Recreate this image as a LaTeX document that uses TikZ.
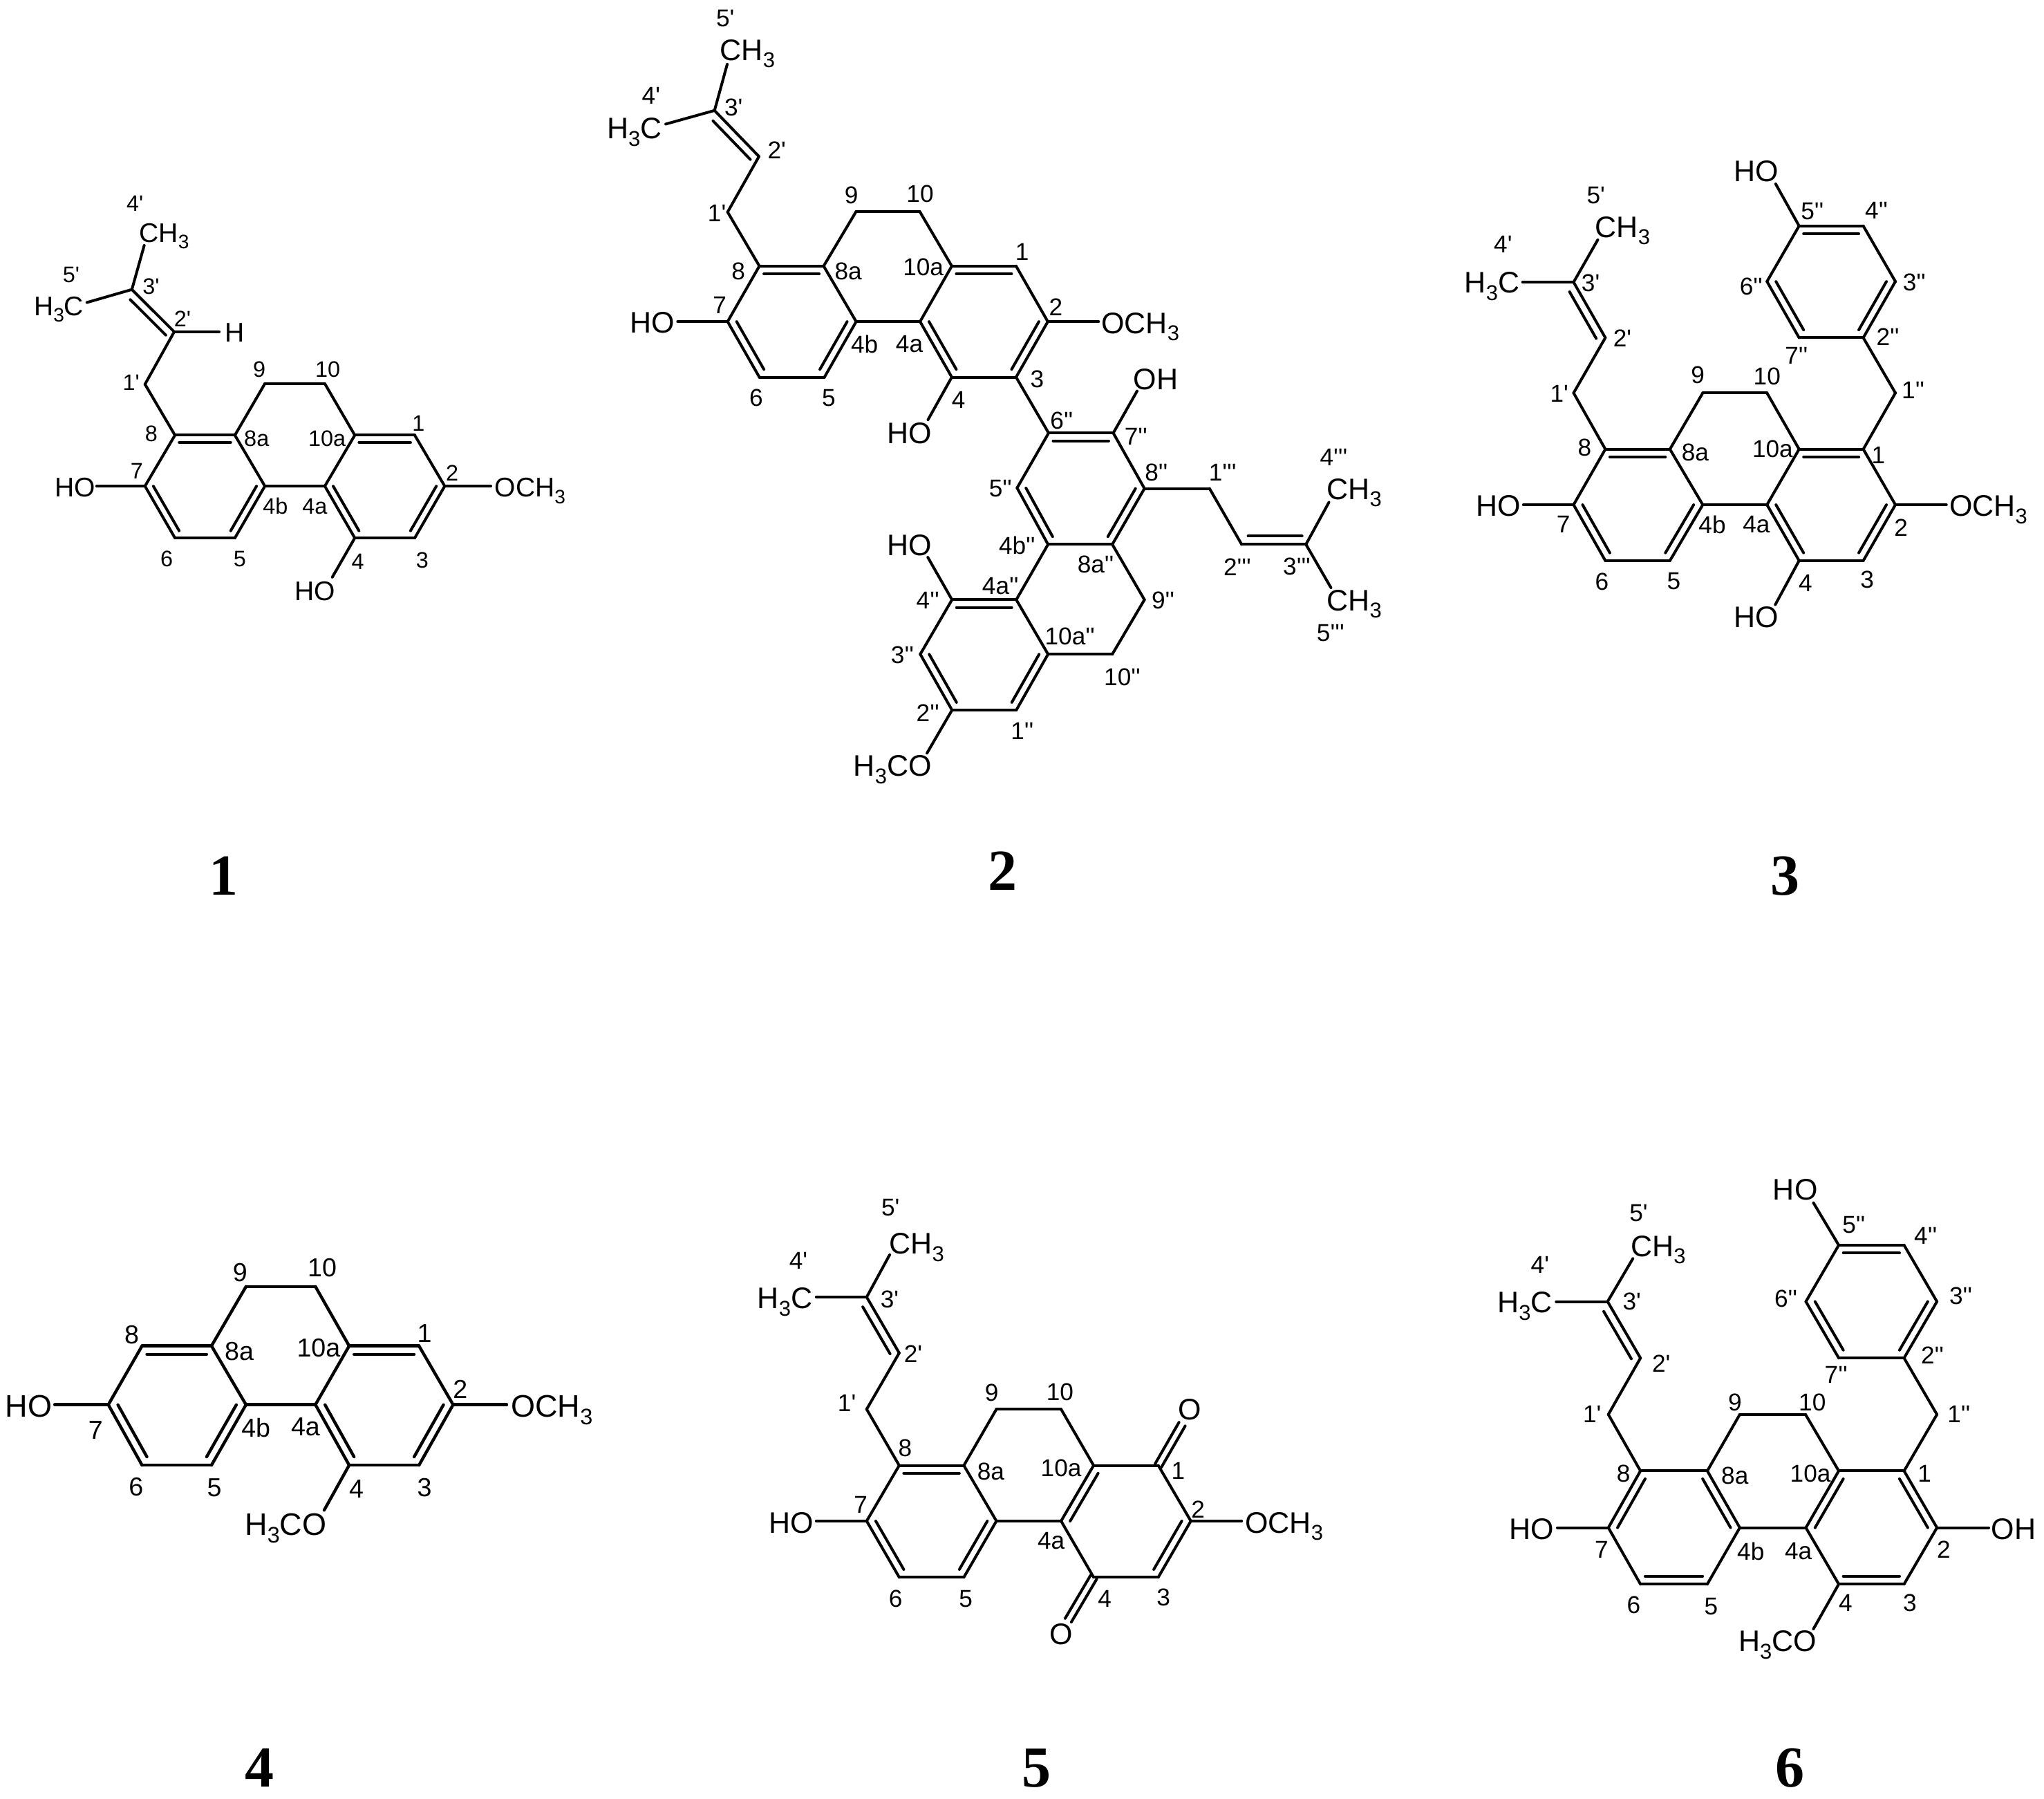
\documentclass[tikz,border=0pt]{standalone}
\usepackage{fontspec}
\usepackage{graphicx}
\usetikzlibrary{calc}
\newfontfamily\chemfont{Liberation Sans}
\newfontfamily\numfont{Liberation Serif}
\newcount\nodec
\newcommand\sbs[1]{\raisebox{-0.24em}[0pt][0pt]{\scalebox{0.72}{#1}}}
\def\asz{21.5}
\def\lsz{17.6}
\tikzset{
  frame/.style n args={4}{xshift=#1,yshift=#2,x=#3,y=#4},
  bond/.style={draw=black,line width=\blw,line cap=round,line join=round},
  atomtext/.style={inner sep=0pt,text=black,font=\chemfont\fontsize{\asz}{\asz}\selectfont},
  locant/.style={inner sep=0pt,text=black,font=\chemfont\fontsize{\lsz}{\lsz}\selectfont},
  cpdnum/.style={inner sep=0pt,text=black,font=\numfont\bfseries\fontsize{42}{42}\selectfont},
}
\def\blw{2pt}
% nodes: automatic unique names
\newcommand\atm[2]{\global\advance\nodec by 1 \node[atomtext,name=t\the\nodec] at (#1) {#2};}
\newcommand\lab[2]{\global\advance\nodec by 1 \node[locant,name=l\the\nodec] at (#1) {#2};}
\newcommand\pts[1]{\foreach \n/\p in {#1}{\coordinate (\n) at (\p);}}
\newcommand\lbls[1]{\foreach \p/\t in {#1}{\lab{\p}{\t}}}
% bonds
\newcommand\sg[1]{\foreach \a/\b in {#1}{\draw[bond] (\a)--(\b);}}
\newcommand\rdb[1]{\foreach \a/\b/\c in {#1}{\draw[bond] (\a)--(\b);\draw[bond] ($(\a)!0.14!(\c)$)--($(\b)!0.14!(\c)$);}}
\newcommand\sdb[3]{\draw[bond] (#1)--(#2);\draw[bond] ($(#1)!0.1!(#2)!6pt!#3:(#2)$)--($(#2)!0.06!(#1)!6pt!-#3:(#1)$);}
\newcommand\cdb[2]{\draw[bond] ($(#1)!2.6pt!90:(#2)$)--($(#2)!2.6pt!-90:(#1)$);\draw[bond] ($(#1)!2.6pt!-90:(#2)$)--($(#2)!2.6pt!90:(#1)$);}
\newcommand\rings{\coordinate (rA) at ($(a8)!.5!(a5)$);\coordinate (rC) at ($(a10a)!.5!(a3)$);}
\begin{document}
\begin{tikzpicture}
\useasboundingbox (0,0) rectangle (1478.5pt,-1301pt);
\fill[white] (0,0) rectangle (1478.5pt,-1301pt);
%================ 1
\begin{scope}[name prefix=m1-,frame={0pt}{-125pt}{.2710pt}{-.2232pt}]
\def\asz{19.5}\def\lsz{16.2}
\pts{p3/{352,378},eA/{385,235},eB/{232,420},p2/{465,515},eH/{585,515},p1/{387,685},a8/{467,850},a8a/{627,850},a9/{707,683},a10/{867,683},a10a/{947,850},a1/{1107,850},a2/{1187,1015},a3/{1107,1183},a4/{947,1183},a4a/{867,1015},a4b/{707,1015},a5/{627,1183},a6/{467,1183},a7/{387,1015},eC/{258,1015},eD/{1310,1015},eE/{887,1310}}
\rings
\sg{p3/eA,p3/eB,p2/eH,p2/p1,p1/a8,a8/a7,a8a/a9,a9/a10,a10/a10a,a8a/a4b,a4b/a4a,a4a/a10a,a1/a2,a3/a4,a6/a5,a7/eC,a2/eD,a4/eE}
\sdb{p3}{p2}{-90}
\rdb{a8/a8a/rA,a7/a6/rA,a4b/a5/rA,a10a/a1/rC,a4a/a4/rC,a2/a3/rC}
\atm{438,195}{CH\sbs{3}}\atm{157,432}{H\sbs{3}C}\atm{626,517}{H}\atm{200,1020}{HO}\atm{1415,1020}{OCH\sbs{3}}\atm{840,1355}{HO}
\lbls{{360,100}/4',{190,330}/5',{403,368}/3',{487,472}/2',{350,680}/1',{692,638}/9,{875,638}/10,{404,845}/8,{685,862}/8a,{873,860}/10a,{1117,812}/1,{1207,972}/2,{365,967}/7,{735,1080}/4b,{840,1080}/4a,{445,1250}/6,{640,1250}/5,{955,1260}/4,{1127,1255}/3}
\end{scope}
%================ 2
\begin{scope}[name prefix=m2-]
\begin{scope}[frame={425pt}{0pt}{.2870pt}{-.2232pt}]
\pts{p3/{320,358},eA/{352,208},eB/{197,402},p2/{432,507},p1/{353,687},a8/{433,862},a8a/{595,862},a9/{677,685},a10/{837,685},a10a/{918,862},a1/{1080,862},a2/{1160,1042},a3/{1080,1222},a4/{918,1222},a4a/{838,1042},a4b/{677,1042},a5/{597,1222},a6/{433,1222},a7/{353,1042},eC/{227,1042},eD/{1288,1042},eE/{858,1360},eF/{1385,1267},b6/{1162,1403},b7/{1325,1403}}
\atm{403,163}{CH\sbs{3}}\atm{118,417}{H\sbs{3}C}\atm{163,1045}{HO}\atm{1393,1047}{OCH\sbs{3}}\atm{811,1403}{HO}\atm{1432,1228}{OH}
\lbls{{347,60}/5',{160,310}/4',{368,347}/3',{477,487}/2',{326,690}/1',{665,632}/9,{838,628}/10,{380,878}/8,{657,878}/8a,{846,865}/10a,{1095,817}/1,{1180,995}/2,{333,988}/7,{698,1115}/4b,{811,1115}/4a,{425,1290}/6,{608,1290}/5,{935,1295}/4,{1133,1228}/3,{1195,1362}/6'',{1382,1415}/7''}
\end{scope}
\begin{scope}[frame={550pt}{-300pt}{.2870pt}{-.2073pt}]
\pts{b8/{968,257},b5/{647,255},b4b/{725,452},b8a/{887,452},b4a/{645,645},b4/{483,645},b3/{403,835},b2/{483,1030},b1/{645,1030},b10a/{725,835},b10/{887,835},b9/{968,645},c1/{1132,257},c2/{1213,452},c3/{1375,452},eG/{1433,305},eH/{1438,603},eI/{422,497},eJ/{420,1180}}
\atm{1497,260}{CH\sbs{3}}\atm{1497,647}{CH\sbs{3}}\atm{375,455}{HO}\atm{333,1225}{H\sbs{3}CO}
\lbls{{998,200}/8'',{1165,200}/1''',{1445,148}/4''',{605,257}/5'',{647,455}/4b'',{845,522}/8a'',{1202,530}/2''',{1352,530}/3''',{1015,647}/9'',{605,597}/4a'',{422,648}/4'',{780,773}/10a'',{358,838}/3'',{1437,762}/5''',{912,915}/10'',{422,1040}/2'',{660,1103}/1''}
\end{scope}
\rings
\coordinate (rD) at ($(b7)!.5!(b4b)$);
\coordinate (rF) at ($(b4a)!.5!(b2)$);
\sg{p3/eA,p3/eB,p2/p1,p1/a8,a8/a7,a8a/a9,a9/a10,a10/a10a,a8a/a4b,a4b/a4a,a4a/a10a,a1/a2,a3/a4,a6/a5,a7/eC,a2/eD,a4/eE,a3/b6,b7/eF,b7/b8,b6/b5,b8/c1,c1/c2,c3/eG,c3/eH,b4b/b8a,b4b/b4a,b8a/b9,b9/b10,b10/b10a,b10a/b4a,b4/b3,b2/b1,b4/eI,b2/eJ}
\sdb{p3}{p2}{-90}
\sdb{c2}{c3}{90}
\rdb{a8/a8a/rA,a7/a6/rA,a4b/a5/rA,a10a/a1/rC,a4a/a4/rC,a2/a3/rC,b6/b7/rD,b5/b4b/rD,b8/b8a/rD,b4/b4a/rF,b3/b2/rF,b1/b10a/rF}
\end{scope}
%================ 3
\begin{scope}[name prefix=m3-,frame={1050pt}{-100pt}{.2732pt}{-.2392pt}]
\pts{p3/{323,435},eA/{387,307},eB/{188,435},p2/{407,603},p1/{323,770},a8/{407,940},a8a/{578,940},a9/{665,770},a10/{835,770},a10a/{920,940},a1/{1090,940},a2/{1175,1108},a3/{1090,1277},a4/{920,1277},a4a/{835,1108},a4b/{665,1108},a5/{578,1277},a6/{407,1277},a7/{323,1108},eC/{190,1108},eD/{1310,1108},eE/{857,1410},q1/{1175,770},q2/{1090,603},q3/{1175,433},q4/{1090,265},q5/{920,265},q6/{835,433},q7/{920,603},eF/{858,138}}
\rings
\coordinate (rB) at ($(q5)!.5!(q2)$);
\sg{p3/eA,p3/eB,p2/p1,p1/a8,a8/a7,a8a/a9,a9/a10,a10/a10a,a8a/a4b,a4b/a4a,a4a/a10a,a1/a2,a3/a4,a6/a5,a7/eC,a2/eD,a4/eE,a1/q1,q1/q2,q4/q3,q5/q6,q7/q2,q5/eF}
\sdb{p3}{p2}{-90}
\rdb{a8/a8a/rA,a7/a6/rA,a4b/a5/rA,a10a/a1/rC,a4a/a4/rC,a2/a3/rC,q5/q4/rB,q6/q7/rB,q2/q3/rB}
\atm{453,268}{CH\sbs{3}}\atm{107,437}{H\sbs{3}C}\atm{807,100}{HO}\atm{124,1112}{HO}\atm{1421,1112}{OCH\sbs{3}}\atm{807,1448}{HO}
\lbls{{382,172}/5',{136,320}/4',{368,437}/3',{452,605}/2',{285,772}/1',{652,715}/9,{835,720}/10,{352,935}/8,{645,950}/8a,{850,940}/10a,{1130,958}/1,{1190,1178}/2,{296,1168}/7,{690,1168}/4b,{807,1168}/4a,{398,1340}/6,{588,1340}/5,{937,1345}/4,{1100,1335}/3,{955,220}/5'',{1125,218}/4'',{1225,435}/3'',{793,448}/6'',{1155,600}/2'',{913,658}/7'',{1222,762}/1''}
\end{scope}
%================ 4
\begin{scope}[name prefix=m4-,frame={0pt}{-890pt}{.2870pt}{-.2073pt}]
\def\asz{22.5}\def\lsz{18.8}\def\blw{2.2pt}
\pts{a7/{273,607},a8/{358,402},a8a/{533,402},a9/{620,195},a10/{795,195},a10a/{880,402},a1/{1056,402},a2/{1142,607},a3/{1056,818},a4/{880,818},a4a/{795,607},a4b/{620,607},a5/{533,818},a6/{358,818},eC/{138,607},eD/{1277,607},eE/{817,975}}
\rings
\sg{a8/a7,a8a/a9,a9/a10,a10/a10a,a8a/a4b,a4b/a4a,a4a/a10a,a1/a2,a3/a4,a6/a5,a7/eC,a2/eD,a4/eE}
\rdb{a8/a8a/rA,a7/a6/rA,a4b/a5/rA,a10a/a1/rC,a4a/a4/rC,a2/a3/rC}
\atm{72,612}{HO}\atm{1391,612}{OCH\sbs{3}}\atm{720,1025}{H\sbs{3}CO}
\lbls{{332,362}/8,{605,145}/9,{812,130}/10,{603,420}/8a,{803,410}/10a,{1070,358}/1,{1160,553}/2,{241,695}/7,{645,688}/4b,{770,685}/4a,{343,893}/6,{540,897}/5,{898,900}/4,{1070,897}/3}
\end{scope}
%================ 5
\begin{scope}[name prefix=m5-,frame={525pt}{-850pt}{.2870pt}{-.2392pt}]
\pts{p3/{355,368},eA/{413,240},eB/{228,368},p2/{437,537},p1/{355,707},a8/{437,877},a8a/{600,877},a9/{682,707},a10/{845,707},a10a/{927,877},a1/{1090,877},a2/{1172,1045},a3/{1090,1215},a4/{927,1215},a4a/{845,1045},a4b/{682,1045},a5/{600,1215},a6/{437,1215},a7/{355,1045},eC/{228,1045},eD/{1300,1045},eO/{1150,752},eQ/{863,1345}}
\rings
\sg{p3/eA,p3/eB,p2/p1,p1/a8,a8/a7,a8a/a9,a9/a10,a10/a10a,a8a/a4b,a4b/a4a,a10a/a1,a1/a2,a3/a4,a4/a4a,a6/a5,a7/eC,a2/eD}
\sdb{p3}{p2}{-90}
\cdb{a1}{eO}
\cdb{a4}{eQ}
\rdb{a8/a8a/rA,a7/a6/rA,a4b/a5/rA,a10a/a4a/rC,a2/a3/rC}
\atm{481,207}{CH\sbs{3}}\atm{149,372}{H\sbs{3}C}\atm{165,1050}{HO}\atm{1407,1050}{OCH\sbs{3}}\atm{1170,708}{O}\atm{845,1387}{O}
\lbls{{415,97}/5',{183,257}/4',{413,375}/3',{472,540}/2',{305,688}/1',{670,657}/9,{842,655}/10,{452,825}/8,{668,895}/8a,{845,885}/10a,{1140,893}/1,{1190,1010}/2,{340,995}/7,{820,1105}/4a,{428,1280}/6,{605,1280}/5,{955,1280}/4,{1103,1275}/3}
\end{scope}
%================ 6
\begin{scope}[name prefix=m6-,frame={1050pt}{-840pt}{.2732pt}{-.2551pt}]
\pts{p3/{413,397},eA/{480,275},eB/{277,397},p2/{500,557},p1/{415,717},a8/{500,877},a8a/{677,877},a9/{763,717},a10/{937,717},a10a/{1025,877},a1/{1198,877},a2/{1285,1038},a3/{1198,1198},a4/{1025,1198},a4a/{938,1038},a4b/{763,1038},a5/{677,1198},a6/{500,1198},a7/{415,1038},q1/{1285,717},q2/{1198,557},q3/{1285,397},q4/{1198,237},q5/{1025,237},q6/{938,397},q7/{1025,557},eF/{958,117},eC/{280,1038},eG/{1422,1038},eE/{958,1325}}
\rings
\coordinate (rB) at ($(q5)!.5!(q2)$);
\sg{p3/eA,p3/eB,p2/p1,p1/a8,a8/a8a,a7/a6,a4b/a5,a4b/a4a,a10a/a1,a2/a3,a4/a4a,a8a/a9,a9/a10,a10/a10a,a1/q1,q1/q2,q4/q3,q5/q6,q7/q2,q5/eF,a7/eC,a2/eG,a4/eE}
\sdb{p3}{p2}{-90}
\rdb{a8/a7/rA,a8a/a4b/rA,a6/a5/rA,a10a/a4a/rC,a1/a2/rC,a4/a3/rC,q5/q4/rB,q6/q7/rB,q2/q3/rB}
\atm{547,240}{CH\sbs{3}}\atm{194,400}{H\sbs{3}C}\atm{910,80}{HO}\atm{212,1042}{HO}\atm{1488,1042}{OH}\atm{863,1360}{H\sbs{3}CO}
\lbls{{495,147}/5',{234,292}/4',{477,397}/3',{555,572}/2',{372,717}/1',{750,683}/9,{955,683}/10,{455,885}/8,{750,890}/8a,{950,885}/10a,{1252,885}/1,{1303,1100}/2,{397,1100}/7,{792,1105}/4b,{918,1105}/4a,{482,1258}/6,{687,1262}/5,{1043,1252}/4,{1213,1252}/3,{1065,180}/5'',{1255,210}/4'',{1348,380}/3'',{885,388}/6'',{1273,550}/2'',{1018,605}/7'',{1343,717}/1''}
\end{scope}
%================ numbers
\node[cpdnum] (n1) at (161.5pt,-633.5pt) {1};
\node[cpdnum] (n2) at (725pt,-630pt) {2};
\node[cpdnum] (n3) at (1291pt,-633.5pt) {3};
\node[cpdnum] (n4) at (187.5pt,-1278.5pt) {4};
\node[cpdnum] (n5) at (749.5pt,-1278.5pt) {5};
\node[cpdnum] (n6) at (1294.5pt,-1278.5pt) {6};
\end{tikzpicture}
\end{document}
